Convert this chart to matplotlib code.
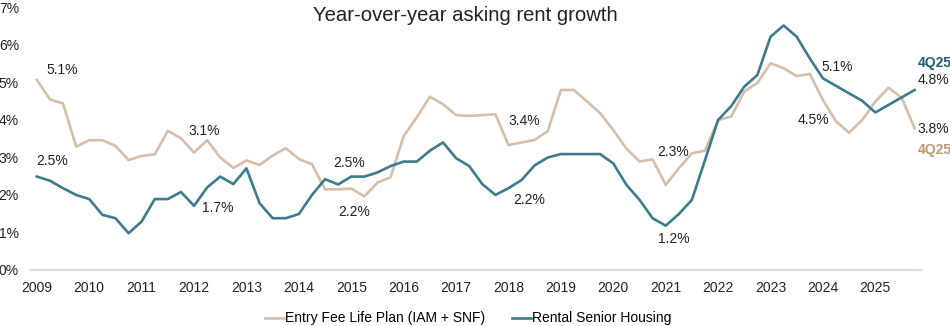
import numpy as np
import matplotlib
import matplotlib.pyplot as plt

matplotlib.rc('font', family=['Liberation Sans', 'DejaVu Sans'])

# quarterly observations, 1Q09 .. 4Q25
start_year = 2009
years = list(range(2009, 2026))

entry_fee = [
    5.07, 4.55, 4.44, 3.29, 3.46, 3.46, 3.31, 2.93,   # 2009-2010
    3.04, 3.08, 3.71, 3.51, 3.13, 3.46, 3.00, 2.72,   # 2011-2012
    2.92, 2.80, 3.05, 3.25, 2.96, 2.82, 2.15, 2.15,   # 2013-2014
    2.17, 1.96, 2.33, 2.47, 3.57, 4.07, 4.62, 4.42,   # 2015-2016
    4.13, 4.11, 4.13, 4.15, 3.33, 3.40, 3.47, 3.70,   # 2017-2018
    4.80, 4.80, 4.49, 4.18, 3.73, 3.24, 2.89, 2.95,   # 2019-2020
    2.27, 2.71, 3.11, 3.18, 4.00, 4.09, 4.76, 4.99,   # 2021-2022
    5.51, 5.38, 5.17, 5.23, 4.53, 3.96, 3.66, 4.00,   # 2023-2024
    4.49, 4.86, 4.60, 3.78,                           # 2025
]

rental = [
    2.49, 2.38, 2.18, 2.00, 1.89, 1.47, 1.38, 0.98,
    1.29, 1.89, 1.89, 2.08, 1.71, 2.20, 2.49, 2.29,
    2.71, 1.78, 1.38, 1.38, 1.49, 2.00, 2.42, 2.28,
    2.49, 2.49, 2.60, 2.77, 2.89, 2.89, 3.18, 3.40,
    2.98, 2.77, 2.29, 2.00, 2.18, 2.40, 2.79, 3.00,
    3.09, 3.09, 3.09, 3.09, 2.84, 2.27, 1.87, 1.38,
    1.18, 1.49, 1.87, 2.93, 4.00, 4.37, 4.89, 5.20,
    6.22, 6.52, 6.22, 5.64, 5.11, 4.91, 4.71, 4.51,
    4.20, 4.40, 4.60, 4.80,
]

# callouts: (text, x in years, y in %)
callouts = [
    ('5.1%', 2009.48, 5.33),
    ('2.5%', 2009.30, 2.90),
    ('3.1%', 2012.20, 3.70),
    ('1.7%', 2012.45, 1.65),
    ('2.5%', 2014.95, 2.85),
    ('2.2%', 2015.05, 1.55),
    ('3.4%', 2018.30, 3.97),
    ('2.2%', 2018.40, 1.87),
    ('2.3%', 2021.15, 3.15),
    ('1.2%', 2021.15, 0.83),
    ('5.1%', 2024.27, 5.41),
    ('4.5%', 2023.82, 4.00),
]

tan = '#D6BEA9'
teal = '#3E7B8C'
fs = 10

x = start_year + np.arange(len(entry_fee)) / 4

fig = plt.figure(figsize=(9.5, 3.26), dpi=100)
ax = fig.add_axes([0.0316, 0.172, 0.9389, 0.805])

ax.plot(x, entry_fee, color=tan, lw=1.9, label='Entry Fee Life Plan (IAM + SNF)')
ax.plot(x, rental, color=teal, lw=1.9, label='Rental Senior Housing')

ax.set_xlim(2008.87, 2025.89)
ax.set_ylim(0, 7)
ax.set_xticks(years)
ax.set_xticklabels([str(y) for y in years])
ax.set_yticks(range(0, 8))
ax.set_yticklabels([f'{v}%' for v in range(0, 8)])
ax.tick_params(axis='both', length=0, labelsize=fs, colors='#222222')
ax.tick_params(axis='x', pad=8)
ax.tick_params(axis='y', pad=8)

for side in ['top', 'right', 'left']:
    ax.spines[side].set_visible(False)
ax.spines['bottom'].set_color('#D9DFE8')
ax.spines['bottom'].set_linewidth(1.5)

for text, tx, ty in callouts:
    ax.text(tx, ty, text, ha='center', va='center', fontsize=fs, color='#222222')

# latest-quarter labels on the right edge
last_x = x[-1] + 0.05
ax.text(last_x, 5.52, '4Q25', ha='left', va='center', fontsize=fs,
        fontweight='bold', color='#1F5E73', clip_on=False)
ax.text(last_x, 5.07, f'{rental[-1]:.1f}%', ha='left', va='center',
        fontsize=fs, color='#222222', clip_on=False)
ax.text(last_x, 3.76, f'{entry_fee[-1]:.1f}%', ha='left', va='center',
        fontsize=fs, color='#222222', clip_on=False)
ax.text(last_x, 3.20, '4Q25', ha='left', va='center', fontsize=fs,
        fontweight='bold', color='#C09A74', clip_on=False)

ax.text(0.488, 0.968, 'Year-over-year asking rent growth', transform=ax.transAxes,
        ha='center', va='center', fontsize=14.6, color='#222222')

ax.legend(loc='center', bbox_to_anchor=(0.491, -0.185), ncol=2, frameon=False,
          fontsize=fs, handlelength=1.4, handletextpad=0.05, columnspacing=1.9)

plt.savefig('out.png', dpi=100)
plt.close()
